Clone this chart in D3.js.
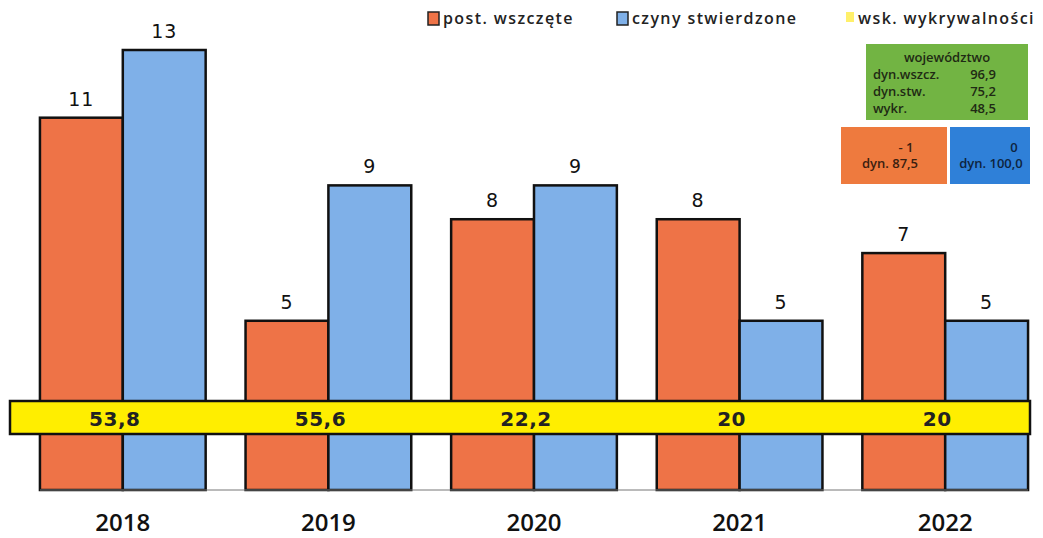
<!DOCTYPE html>
<html><head><meta charset="utf-8">
<script src="https://cdn.jsdelivr.net/npm/d3@7"></script>
<style>body{margin:0;background:#fff}svg{display:block}</style>
</head><body>
<script>
const years = ["2018","2019","2020","2021","2022"];
const wszczete = [11,5,8,8,7];
const stwierdzone = [13,9,9,5,5];
const wykrywalnosc = ["53,8","55,6","22,2","20","20"];
const seriesNames = ["post. wszczęte","czyny stwierdzone","wsk. wykrywalności"];
const wojLabels = ["dyn.wszcz.","dyn.stw.","wykr."];
const wojValues = ["96,9","75,2","48,5"];
const orangeBox = ["- 1","dyn. 87,5"];
const blueBox = ["0","dyn. 100,0"];

const W=1043,H=538;
const svg=d3.select("body").append("svg").attr("width",W).attr("height",H);
const C_OR="#ee7347", C_BL="#7fb0e8", C_YE="#ffee00";
const font="'Open Sans',sans-serif";

const x0=d3.scaleBand().domain(years).range([20,1048]).paddingInner(0.194).paddingOuter(0.097);
const x1=d3.scaleBand().domain(["o","b"]).range([0,x0.bandwidth()]);
const y=d3.scaleLinear().domain([0,13]).range([490,50]);

const data=years.map((yr,i)=>({yr,vals:[{k:"o",v:wszczete[i],c:C_OR},{k:"b",v:stwierdzone[i],c:C_BL}]}));
const g=svg.selectAll("g.grp").data(data).join("g").attr("transform",d=>`translate(${x0(d.yr)},0)`);
g.selectAll("rect").data(d=>d.vals).join("rect")
 .attr("x",d=>x1(d.k)).attr("width",x1.bandwidth())
 .attr("y",d=>y(d.v)).attr("height",d=>y(0)-y(d.v))
 .attr("fill",d=>d.c).attr("stroke","#111").attr("stroke-width",2.5);
g.selectAll("text.val").data(d=>d.vals).join("text").attr("class","val")
 .attr("x",d=>x1(d.k)+x1.bandwidth()/2).attr("y",d=>y(d.v)-12)
 .attr("text-anchor","middle").attr("font-family","'DejaVu Sans',sans-serif")
 .attr("font-size",19).attr("letter-spacing",1).attr("fill","#111").text(d=>d.v);

// baseline
svg.append("line").attr("x1",x0(years[0])).attr("x2",x0(years[4])+x0.bandwidth())
 .attr("y1",y(0)).attr("y2",y(0)).attr("stroke","#777").attr("stroke-width",1);

// yellow band
svg.append("rect").attr("x",10).attr("y",401).attr("width",1020).attr("height",33)
 .attr("fill",C_YE).attr("stroke","#111").attr("stroke-width",2.5);
svg.selectAll("text.wyk").data(years).join("text").attr("class","wyk")
 .attr("x",d=>x0(d)+x0.bandwidth()/2-8).attr("y",426).attr("text-anchor","middle")
 .attr("font-family","'DejaVu Sans',sans-serif").attr("font-weight","bold").attr("font-size",20)
 .attr("letter-spacing",0.5).attr("fill","#222").text((d,i)=>wykrywalnosc[i]);

// x axis labels
svg.selectAll("text.yr").data(years).join("text").attr("class","yr")
 .attr("x",d=>x0(d)+x0.bandwidth()/2).attr("y",531).attr("text-anchor","middle")
 .attr("font-family",font).attr("font-weight",600).attr("font-size",24).attr("fill","#111").text(d=>d);

// legend
const leg=[{x:428,c:C_OR,s:true},{x:617,c:C_BL,s:true},{x:846,c:"#fff06a",s:false}];
leg.forEach((l,i)=>{
 svg.append("rect").attr("x",l.x).attr("y",12).attr("width",l.s?11:8).attr("height",l.s?13:10)
  .attr("fill",l.c).attr("stroke",l.s?"#222":"none").attr("stroke-width",1.5);
 svg.append("text").attr("x",l.x+(l.s?15:12)).attr("y",24).attr("font-family",font)
  .attr("font-size",16).attr("font-weight",600).attr("letter-spacing",1.4).attr("fill","#222").text(seriesNames[i]);
});

// green box
const ink="#1f2a14";
svg.append("rect").attr("x",866).attr("y",44).attr("width",162).attr("height",76).attr("fill","#72b443");
svg.append("text").attr("x",947).attr("y",62).attr("text-anchor","middle").attr("font-family",font)
 .attr("font-size",13).attr("font-weight",600).attr("fill",ink).text("województwo");
wojLabels.forEach((l,i)=>{
 svg.append("text").attr("x",873).attr("y",79+i*17).attr("font-family",font).attr("font-size",13).attr("font-weight",600).attr("fill",ink).text(l);
 svg.append("text").attr("x",996).attr("y",79+i*17).attr("text-anchor","end").attr("font-family",font).attr("font-size",13).attr("font-weight",600).attr("fill",ink).text(wojValues[i]);
});
// orange/blue boxes
svg.append("rect").attr("x",841).attr("y",127).attr("width",106).attr("height",57).attr("fill","#ee7a3e");
svg.append("rect").attr("x",950).attr("y",127).attr("width",80).attr("height",57).attr("fill","#2f80d8");
orangeBox.forEach((t,i)=>svg.append("text").attr("x",i?890:906).attr("y",152+i*16).attr("text-anchor","middle")
 .attr("font-family",font).attr("font-size",13).attr("font-weight",600).attr("fill","#3a2010").text(t));
blueBox.forEach((t,i)=>svg.append("text").attr("x",i?991:1014).attr("y",152+i*16).attr("text-anchor","middle")
 .attr("font-family",font).attr("font-size",13).attr("font-weight",600).attr("fill","#0d2440").text(t));
</script>
</body></html>
